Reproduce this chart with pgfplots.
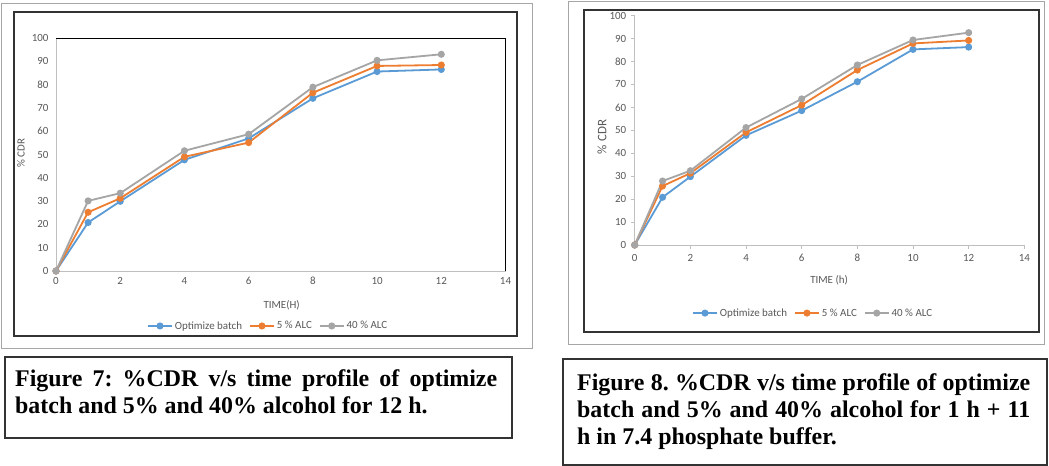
\documentclass[border=0pt]{standalone}
\usepackage{pgfplots}
\pgfplotsset{compat=1.18}
\usepackage{fontspec}
\setmainfont{Liberation Serif}
\newfontfamily\calibri{Carlito}
\definecolor{cblue}{HTML}{5B9BD5}
\definecolor{corange}{HTML}{ED7D31}
\definecolor{cgray}{HTML}{A5A5A5}
\definecolor{txt}{HTML}{595959}
\definecolor{axgray}{HTML}{BFBFBF}
\definecolor{frame}{HTML}{333333}

\pgfplotsset{
 excel/.style={
  scale only axis, xmin=0, xmax=14, ymin=0, ymax=100,
  xtick={0,2,...,14}, ytick={0,10,...,100},
  /pgf/number format/assume math mode=true,
  tick label style={font=\calibri\fontsize{11}{12}\selectfont, text=txt},
  label style={font=\calibri\fontsize{11}{12}\selectfont, text=txt},
  legend style={draw=none, fill=none, font=\calibri\fontsize{11}{12}\selectfont, text=txt,
    legend columns=3, /tikz/every even column/.append style={column sep=5bp}},
  legend image code/.code={\draw[mark repeat=2, mark phase=2,##1] plot coordinates {(0bp,0bp) (12bp,0bp) (24bp,0bp)};},
  clip=false,
 },
 s1/.style={cblue, line width=1.8bp, mark=*, mark size=2.6bp, mark options={solid}},
 s2/.style={corange, line width=1.8bp, mark=*, mark size=2.6bp, mark options={solid}},
 s3/.style={cgray, line width=1.8bp, mark=*, mark size=2.6bp, mark options={solid}},
}

\begin{document}
\frenchspacing
\begin{tikzpicture}[x=1bp,y=1bp]
\useasboundingbox (0,0) rectangle (1049,466);
\fill[white] (0,0) rectangle (1049,466);

% ---------- frames, left ----------
\draw[gray!70, line width=0.9bp] (1,463) rectangle (532,118);
\draw[frame, line width=1.5bp] (14,454) rectangle (517,130);
% ---------- frames, right ----------
\draw[gray!70, line width=0.9bp] (568,465) rectangle (1044,122);
\draw[frame, line width=1.5bp] (584,456) rectangle (1039,134);

% ---------- caption boxes ----------
\draw[frame, line width=1.5bp] (5,109) rectangle (512,28);
\draw[frame, line width=1.5bp] (563,107) rectangle (1047,1);

\node[anchor=base west, inner sep=0pt] at (15,79.5) {\parbox[t]{482bp}{\frenchspacing\fontsize{24}{27}\selectfont\bfseries Figure 7: \%CDR v/s time profile of optimize\linebreak batch and 5\% and 40\% alcohol for 12 h.}};
\node[anchor=base west, inner sep=0pt] at (577,75) {\parbox[t]{453bp}{\frenchspacing\fontsize{24}{27}\selectfont\bfseries Figure 8. \%CDR v/s time profile of optimize\linebreak batch and 5\% and 40\% alcohol for 1 h + 11\linebreak h in 7.4 phosphate buffer.}};

% ---------- left chart (Figure 7) ----------
\begin{axis}[excel,
  at={(56bp,195bp)}, anchor=south west,
  width=449.5bp, height=233bp,
  axis line style={axgray, line width=0.8bp},
  major tick length=0pt,
  xticklabel style={yshift=-3bp},
  yticklabel style={xshift=-4bp},
  xlabel={TIME(H)}, ylabel={\% CDR},
  xlabel style={at={(axis description cs:0.502,-0.146)}, anchor=center},
  ylabel style={at={(axis description cs:-0.078,0.506)}, anchor=center, rotate=0},
  legend style={at={(0.472,-0.236)}, anchor=center},
]
\addplot[s1] coordinates {(0,0) (1,20.8) (2,29.9) (4,47.7) (6,56.9) (8,74.1) (10,85.6) (12,86.5)};
\addplot[s2] coordinates {(0,0) (1,25.2) (2,31.2) (4,49.0) (6,55.1) (8,76.5) (10,88.0) (12,88.4)};
\addplot[s3] coordinates {(0,0) (1,30.1) (2,33.4) (4,51.6) (6,58.7) (8,78.9) (10,90.4) (12,93.0)};
\legend{Optimize batch, 5 \% ALC, 40 \% ALC}
\draw[black, line width=0.9bp] (rel axis cs:0,1) -- (rel axis cs:1,1) -- (rel axis cs:1,0);
\end{axis}

% ---------- right chart (Figure 8) ----------
\begin{axis}[excel,
  at={(634.7bp,221bp)}, anchor=south west,
  width=389.6bp, height=229.3bp,
  axis x line=bottom, axis y line=left,
  axis line style={axgray, line width=0.8bp, -},
  tick align=outside, major tick length=4bp,
  tick style={axgray, line width=0.8bp},
  xtick pos=bottom, ytick pos=left,
  xticklabel style={yshift=-2bp},
  yticklabel style={xshift=-1bp},
  xlabel={TIME (h)}, ylabel={\% CDR},
  xlabel style={at={(axis description cs:0.499,-0.153)}, anchor=center},
  ylabel style={at={(axis description cs:-0.084,0.471)}, anchor=center, font=\calibri\fontsize{13}{14}\selectfont},
  legend style={at={(0.458,-0.297)}, anchor=center},
]
\addplot[s1] coordinates {(0,0) (1,20.8) (2,29.8) (4,47.8) (6,58.6) (8,71.2) (10,85.3) (12,86.3)};
\addplot[s2] coordinates {(0,0) (1,25.7) (2,31.3) (4,49.1) (6,61.0) (8,76.3) (10,87.9) (12,89.2)};
\addplot[s3] coordinates {(0,0) (1,27.9) (2,32.4) (4,51.2) (6,63.7) (8,78.5) (10,89.4) (12,92.6)};
\legend{Optimize batch, 5 \% ALC, 40 \% ALC}
\end{axis}
\end{tikzpicture}
\end{document}
